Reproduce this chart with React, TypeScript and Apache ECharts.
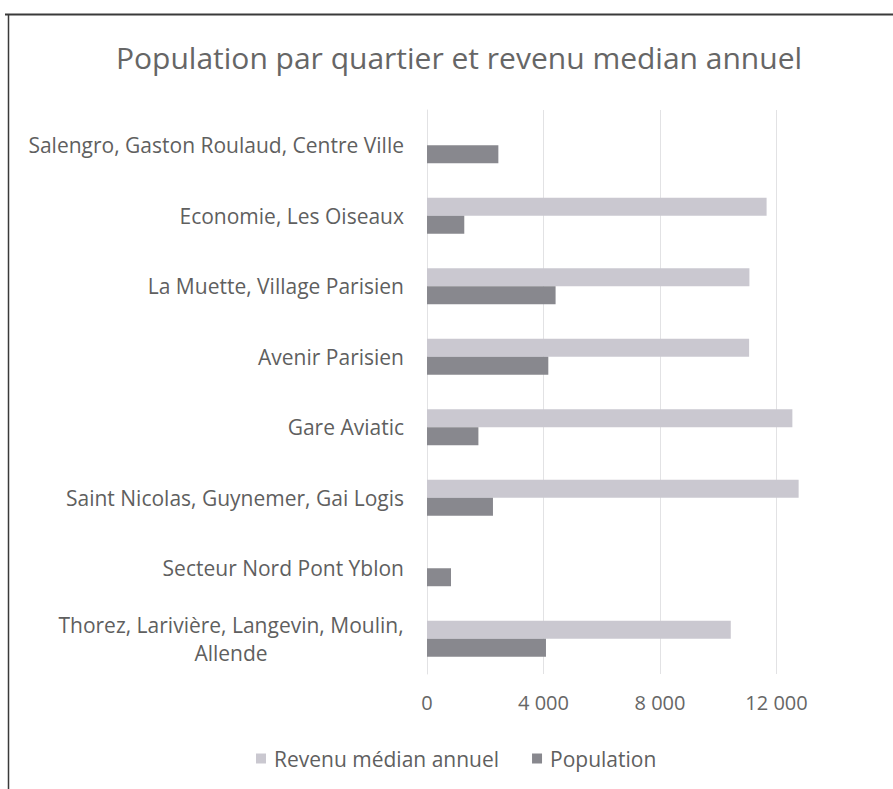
import React, { useEffect, useRef } from "react";
import * as echarts from "echarts";

const categories = [
  "Salengro, Gaston Roulaud, Centre Ville",
  "Economie, Les Oiseaux",
  "La Muette, Village Parisien",
  "Avenir Parisien",
  "Gare Aviatic",
  "Saint Nicolas, Guynemer, Gai Logis",
  "Secteur Nord Pont Yblon",
  "Thorez, Larivière, Langevin, Moulin,\nAllende",
];
const revenuMedian = [null, 11660, 11070, 11060, 12545, 12760, null, 10430];
const population = [2450, 1280, 4415, 4165, 1765, 2265, 825, 4085];
const xTicks = [0, 4000, 8000, 12000, 16000];

const FONT = "Open Sans";
const CAT_SIZE = 21;

function measure(text: string, size: number): number {
  const c = document.createElement("canvas").getContext("2d");
  if (!c) return text.length * size * 0.5;
  c.font = `${size}px "${FONT}"`;
  return Math.ceil(c.measureText(text).width);
}

export default function App() {
  const ref = useRef<HTMLDivElement>(null);
  useEffect(() => {
    if (!ref.current) return;
    const chart = echarts.init(ref.current, null, { renderer: "svg" });
    const multiWidth = Math.max(
      ...categories.filter((c) => c.includes("\n")).flatMap((c) => c.split("\n").map((p) => measure(p, CAT_SIZE))),
      0
    );
    chart.setOption({
      animation: false,
      backgroundColor: "#ffffff",
      title: {
        text: "Population par quartier et revenu median annuel",
        left: 111,
        top: 37,
        textStyle: { fontFamily: FONT, fontSize: 30, fontWeight: "normal", color: "#666666" },
      },
      legend: {
        data: ["Revenu médian annuel", "Population"],
        top: 743,
        left: 251,
        icon: "rect",
        itemWidth: 10,
        itemHeight: 10,
        itemGap: 33,
        textStyle: { fontFamily: FONT, fontSize: 21, color: "#5f5f5f", padding: [0, 0, 0, 3] },
      },
      grid: { left: 427, right: -5, top: 110, bottom: 115, containLabel: false },
      xAxis: {
        type: "value",
        min: xTicks[0],
        max: xTicks[xTicks.length - 1],
        interval: 4000,
        axisLine: { show: false },
        axisTick: { show: false },
        splitLine: { show: true, lineStyle: { color: "#e2e2e4", width: 1 } },
        axisLabel: {
          showMaxLabel: false,
          margin: 18,
          fontFamily: FONT,
          fontSize: 20,
          color: "#666666",
          formatter: (v: number) => String(v).replace(/\B(?=(\d{3})+(?!\d))/g, " "),
        },
      },
      yAxis: {
        type: "category",
        data: categories,
        inverse: true,
        axisLine: { show: true, lineStyle: { color: "#e2e2e4" } },
        axisTick: { show: false },
        axisLabel: {
          margin: 23,
          fontFamily: FONT,
          fontSize: CAT_SIZE,
          color: "#5f5f5f",
          lineHeight: 28,
          formatter: (v: string) => {
            const parts = v.split("\n");
            if (parts.length === 1) return v;
            return parts.map((p) => "{c|" + p + "}").join("\n");
          },
          rich: {
            c: {
              width: multiWidth,
              align: "center",
              fontFamily: FONT,
              fontSize: CAT_SIZE,
              color: "#5f5f5f",
              lineHeight: 28,
            },
          },
        },
      },
      series: [
        {
          name: "Revenu médian annuel",
          type: "bar",
          data: revenuMedian,
          barGap: "0%",
          barCategoryGap: "49%",
          itemStyle: { color: "#cac8d0" },
        },
        {
          name: "Population",
          type: "bar",
          data: population,
          barGap: "0%",
          barCategoryGap: "49%",
          itemStyle: { color: "#88888e" },
        },
      ],
      graphic: [
        { type: "line", shape: { x1: 5, y1: 14.5, x2: 893, y2: 14.5 }, style: { stroke: "#3a3a3a", lineWidth: 2 } },
        { type: "line", shape: { x1: 8.5, y1: 14, x2: 8.5, y2: 789 }, style: { stroke: "#3a3a3a", lineWidth: 1.5 } },
      ],
    });
    return () => chart.dispose();
  }, []);
  return (
    <div
      ref={ref}
      style={{ position: "fixed", left: 0, top: 0, width: 893, height: 789, background: "#fff" }}
    />
  );
}
